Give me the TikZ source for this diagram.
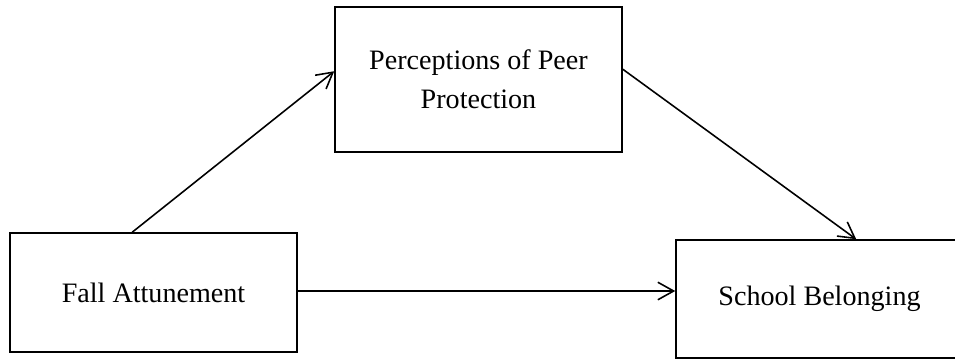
\documentclass[tikz,border=0pt]{standalone}
\usepackage{fontspec}
\setmainfont{Liberation Serif}
\usetikzlibrary{shapes.geometric, arrows.meta}
\tikzstyle{arrow} = [line width=0.9pt,-{Straight Barb[length=9pt,width=10pt,line width=0.9pt]}]
\tikzstyle{box} = [rectangle, draw, line width=0.9pt, minimum width=5.74cm, align=center, font=\fontsize{16}{22}\selectfont]

\begin{document}
\begin{tikzpicture}[x=0.02cm,y=-0.02cm]
                \useasboundingbox (0,0) rectangle (955,360);
                \node (fall) [box, minimum height=2.38cm] at (153.5,292.5) {Fall Attunement};
                \node (peer) [box, minimum height=2.9cm] at (478.5,79.5) {Perceptions of Peer\\Protection};
                \node (school) [box, minimum height=2.36cm] at (819.5,299) {School Belonging};

                \draw [arrow] ([xshift=2.46cm]fall.north west) -- ([yshift=-1.3cm]peer.north west);
                \draw [arrow] ([yshift=-1.26cm]peer.north east) -- ([xshift=3.62cm]school.north west);
                \draw [arrow] ([yshift=0.03cm]fall.east) -- ([yshift=0.03cm]fall.east -| school.west);
            \end{tikzpicture}
\end{document}
